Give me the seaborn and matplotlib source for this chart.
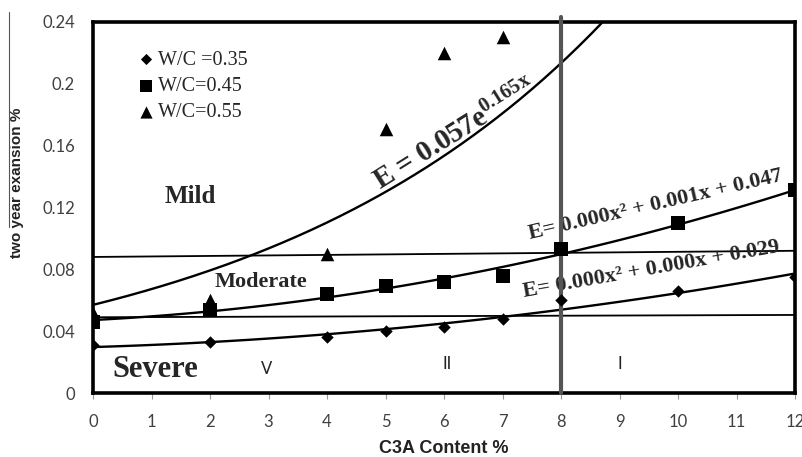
import numpy as np
import pandas as pd
import matplotlib
matplotlib.use("Agg")
import matplotlib.pyplot as plt
import seaborn as sns
from matplotlib.lines import Line2D

# ---------------- data ----------------
c3a = [0, 2, 4, 5, 6, 7, 8, 10, 12]
wc035 = [0.031, 0.033, 0.036, 0.040, 0.043, 0.048, 0.060, 0.066, 0.075]
wc045 = [0.046, 0.054, 0.064, 0.069, 0.072, 0.076, 0.093, 0.110, 0.131]
c3a_055 = [0, 2, 4, 5, 6, 7]
wc055 = [0.052, 0.060, 0.090, 0.171, 0.220, 0.230]

exp_a, exp_b = 0.057, 0.165          # E = 0.057 e^(0.165x)

boundary_x = [0, 12]
mild_moderate = [0.088, 0.092]
moderate_severe = [0.049, 0.0505]
type_boundary = 8

xticks = list(range(0, 13))
yticks = [0, 0.04, 0.08, 0.12, 0.16, 0.20, 0.24]
ytick_labels = ["0", "0.04", "0.08", "0.12", "0.16", "0.2", "0.24"]

legend_labels = ["W/C =0.35", "W/C=0.45", "W/C=0.55"]

# ---------------- style ----------------
sns.set_theme(style="white")
plt.rcParams["font.family"] = ["Lato", "DejaVu Sans"]
plt.rcParams["mathtext.fontset"] = "custom"
plt.rcParams["mathtext.rm"] = "Liberation Serif:bold"
plt.rcParams["mathtext.it"] = "Liberation Serif:bold"
plt.rcParams["mathtext.bf"] = "Liberation Serif:bold"

fig = plt.figure(figsize=(8.03, 4.57), dpi=100)
ax = fig.add_axes([93 / 803, 1 - 393 / 457, 702 / 803, 371 / 457])

# fitted curves
sns.regplot(x=c3a, y=wc035, order=2, ci=None, scatter=False, truncate=True,
            line_kws=dict(color="black", lw=1.7), ax=ax)
sns.regplot(x=c3a, y=wc045, order=2, ci=None, scatter=False, truncate=True,
            line_kws=dict(color="black", lw=1.7), ax=ax)
xs = np.linspace(0, 12, 300)
sns.lineplot(x=xs, y=exp_a * np.exp(exp_b * xs), color="black", lw=1.7, ax=ax)

# boundary lines
sns.lineplot(x=boundary_x, y=mild_moderate, color="black", lw=1.3, ax=ax)
sns.lineplot(x=boundary_x, y=moderate_severe, color="black", lw=1.3, ax=ax)
ax.plot([type_boundary, type_boundary], [0, 0.2435], color="#555555", lw=3,
        clip_on=False, zorder=4)

# markers
sns.scatterplot(x=c3a, y=wc035, marker="D", s=40, color="black", linewidth=0,
                ax=ax, label=legend_labels[0], zorder=5)
sns.scatterplot(x=c3a, y=wc045, marker="s", s=90, color="black", linewidth=0,
                ax=ax, label=legend_labels[1], zorder=5)
sns.scatterplot(x=c3a_055, y=wc055, marker="^", s=95, color="black", linewidth=0,
                ax=ax, label=legend_labels[2], zorder=5)

ax.set_xlim(0, 12)
ax.set_ylim(0, 0.24)
ax.set_xticks(xticks)
ax.set_xticklabels([str(t) for t in xticks])
ax.set_yticks(yticks)
ax.set_yticklabels(ytick_labels)

for s in ax.spines.values():
    s.set_color("black")
    s.set_linewidth(2.6)

ax.tick_params(axis="x", which="major", bottom=True, length=4, width=0.8,
               color="#999999", pad=11, labelsize=12, labelcolor="#404040")
ax.tick_params(axis="y", which="major", left=False, length=0, pad=13,
               labelsize=12, labelcolor="#404040")

sans_bold = dict(family="Liberation Sans", fontweight="bold", color="#222222")
ax.set_xlabel("C3A Content %", fontsize=13, **sans_bold)
ax.set_ylabel("two year exansion %", fontsize=11, **sans_bold)
ax.xaxis.set_label_coords(0.5, -0.128)
ax.yaxis.set_label_coords(-0.098, 0.566)

leg = ax.legend(loc="upper left", bbox_to_anchor=(0.053, 0.945), frameon=False,
                prop={"family": "Liberation Serif", "size": 14.5},
                handlelength=0.8, handletextpad=0.2, labelspacing=0.36,
                markerscale=0.9, borderaxespad=0)

serif = "Liberation Serif"
ax.text(1.66, 0.127, "Mild", fontsize=18, fontweight="bold", family=serif,
        ha="center", va="center")
ax.text(2.88, 0.0715, "Moderate", fontsize=16, fontweight="bold", family=serif,
        ha="center", va="center")
ax.text(1.07, 0.0155, "Severe", fontsize=22, fontweight="bold", family=serif,
        ha="center", va="center")
ax.text(2.96, 0.0155, "V", fontsize=12, ha="center", va="center", color="#222222")
ax.text(6.05, 0.0185, "II", fontsize=12, ha="center", va="center", color="#222222")
ax.text(9.0, 0.0185, "I", fontsize=12, ha="center", va="center", color="#222222")

ax.text(6.19, 0.1675, r"E = 0.057$\mathrm{e}^{\mathrm{0.165x}}$", fontsize=21,
        fontweight="bold", family=serif, ha="center", va="center",
        rotation=32, rotation_mode="anchor")
ax.text(9.62, 0.1215, "E= 0.000x² + 0.001x + 0.047", fontsize=16,
        fontweight="bold", family=serif, ha="center", va="center",
        rotation=13, rotation_mode="anchor")
ax.text(9.55, 0.080, "E= 0.000x² + 0.000x + 0.029", fontsize=16,
        fontweight="bold", family=serif, ha="center", va="center",
        rotation=10, rotation_mode="anchor")

# thin line left of the y label (present in the original image)
fig.add_artist(Line2D([8.5 / 803, 8.5 / 803], [1 - 12 / 457, 1 - 227 / 457],
                      color="#555555", lw=0.8))

fig.savefig("out.png", dpi=100)
